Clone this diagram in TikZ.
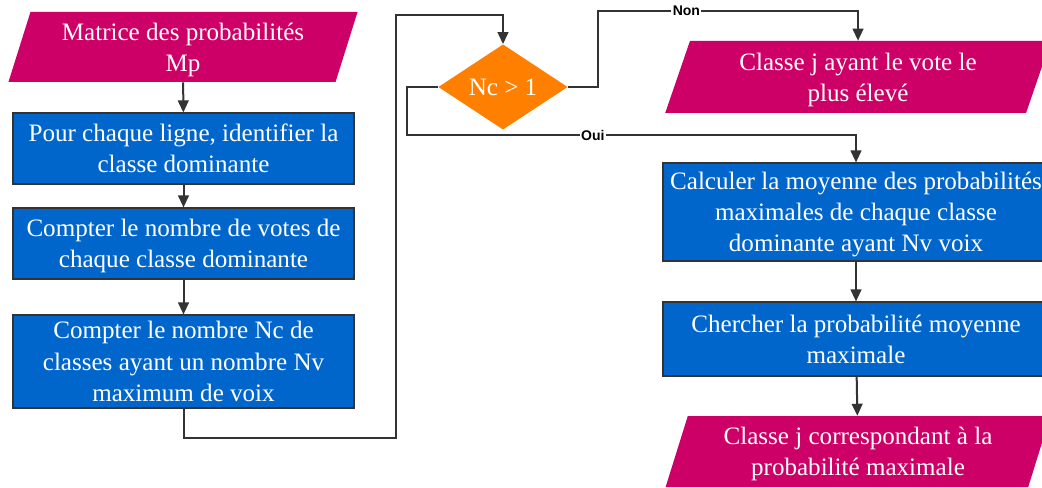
\documentclass[tikz,border=0pt]{standalone}
\usepackage{fontspec}
\setmainfont{Liberation Serif}
\newfontfamily\labelfont{Liberation Sans}
\usetikzlibrary{
	arrows.meta,
	shapes.geometric
}
\definecolor{FlowPink}{RGB}{204,0,102}
\definecolor{FlowBlue}{RGB}{0,102,204}
\definecolor{FlowOrange}{RGB}{255,128,0}
\definecolor{LineGray}{RGB}{51,51,51}
\newcommand{\flowfont}{\fontsize{18.8}{23.4}\selectfont}

\begin{document}
\begin{tikzpicture}[x=0.75pt, y=-0.75pt,
		proc/.style={rectangle, draw=LineGray, line width=0.8pt, fill=FlowBlue, text=white,
			align=center, inner sep=1pt, text depth=-3pt, font=\flowfont},
		io/.style={trapezium, trapezium left angle=71, trapezium right angle=109,
			trapezium stretches=true, fill=FlowPink, text=white, align=center, inner sep=1pt, text depth=-5pt, font=\flowfont},
		decision/.style={diamond, fill=FlowOrange, text=white, inner sep=0pt, font=\flowfont},
		link/.style={draw=LineGray, line width=1.5pt, -{Triangle[length=9pt,width=8pt]}},
		answer/.style={fill=white, text=black, inner sep=1pt, font=\labelfont\bfseries\fontsize{10.5}{12}\selectfont}]
		\useasboundingbox (0,0) rectangle (1042,488);
		\clip (0,0) rectangle (1042,488);
		% colonne gauche
		\node[io, minimum width=262.5pt, minimum height=52.5pt] (mp) at (183,47) {Matrice des probabilités\\Mp};
		\node[proc, minimum width=255.75pt, minimum height=53.25pt] (dom) at (183.5,148.5) {Pour chaque ligne, identifier la\\classe dominante};
		\node[proc, minimum width=255.75pt, minimum height=53.25pt] (votes) at (183.5,243.5) {Compter le nombre de votes de\\chaque classe dominante};
		\node[proc, minimum width=255.75pt, minimum height=69.75pt] (nc) at (183.5,361.5) {Compter le nombre Nc de\\classes ayant un nombre Nv\\maximum de voix};
		% test
		\node[decision, minimum width=97pt, minimum height=61pt] (test) at (503,87) {Nc > 1};
		% colonne droite
		\node[io, minimum width=289.5pt, minimum height=54pt] (best) at (858,77) {Classe j ayant le vote le\\plus élevé};
		\node[proc, minimum width=289.5pt, minimum height=73.5pt] (mean) at (856,212) {Calculer la moyenne des probabilités\\maximales de chaque classe\\dominante ayant Nv voix};
		\node[proc, minimum width=289.5pt, minimum height=55.5pt] (maxp) at (856,339) {Chercher la probabilité moyenne\\maximale};
		\node[io, minimum width=289.5pt, minimum height=53.25pt] (res) at (858,451.5) {Classe j correspondant à la\\probabilité maximale};
		% points de passage
		\coordinate (down) at (396,438);
		\coordinate (up) at (396,15);
		\coordinate (non) at (598,11);
		\coordinate (oui) at (407,135);
		% liaisons
		\draw[link] (mp) -- (dom);
		\draw[link] (dom) -- (votes);
		\draw[link] (votes) -- (nc);
		\draw[link] (nc.south) |- (down) -- (up) -| (test.north);
		\draw[link] (test.east) -| (non) -| node[answer, pos=0.17] {Non} (best.north);
		\draw[link] (test.west) -| (oui) -| node[answer, pos=0.207] {Oui} (mean.north);
		\draw[link] (mean) -- (maxp);
		\draw[link] (maxp) -- (res);
	\end{tikzpicture}
\end{document}
